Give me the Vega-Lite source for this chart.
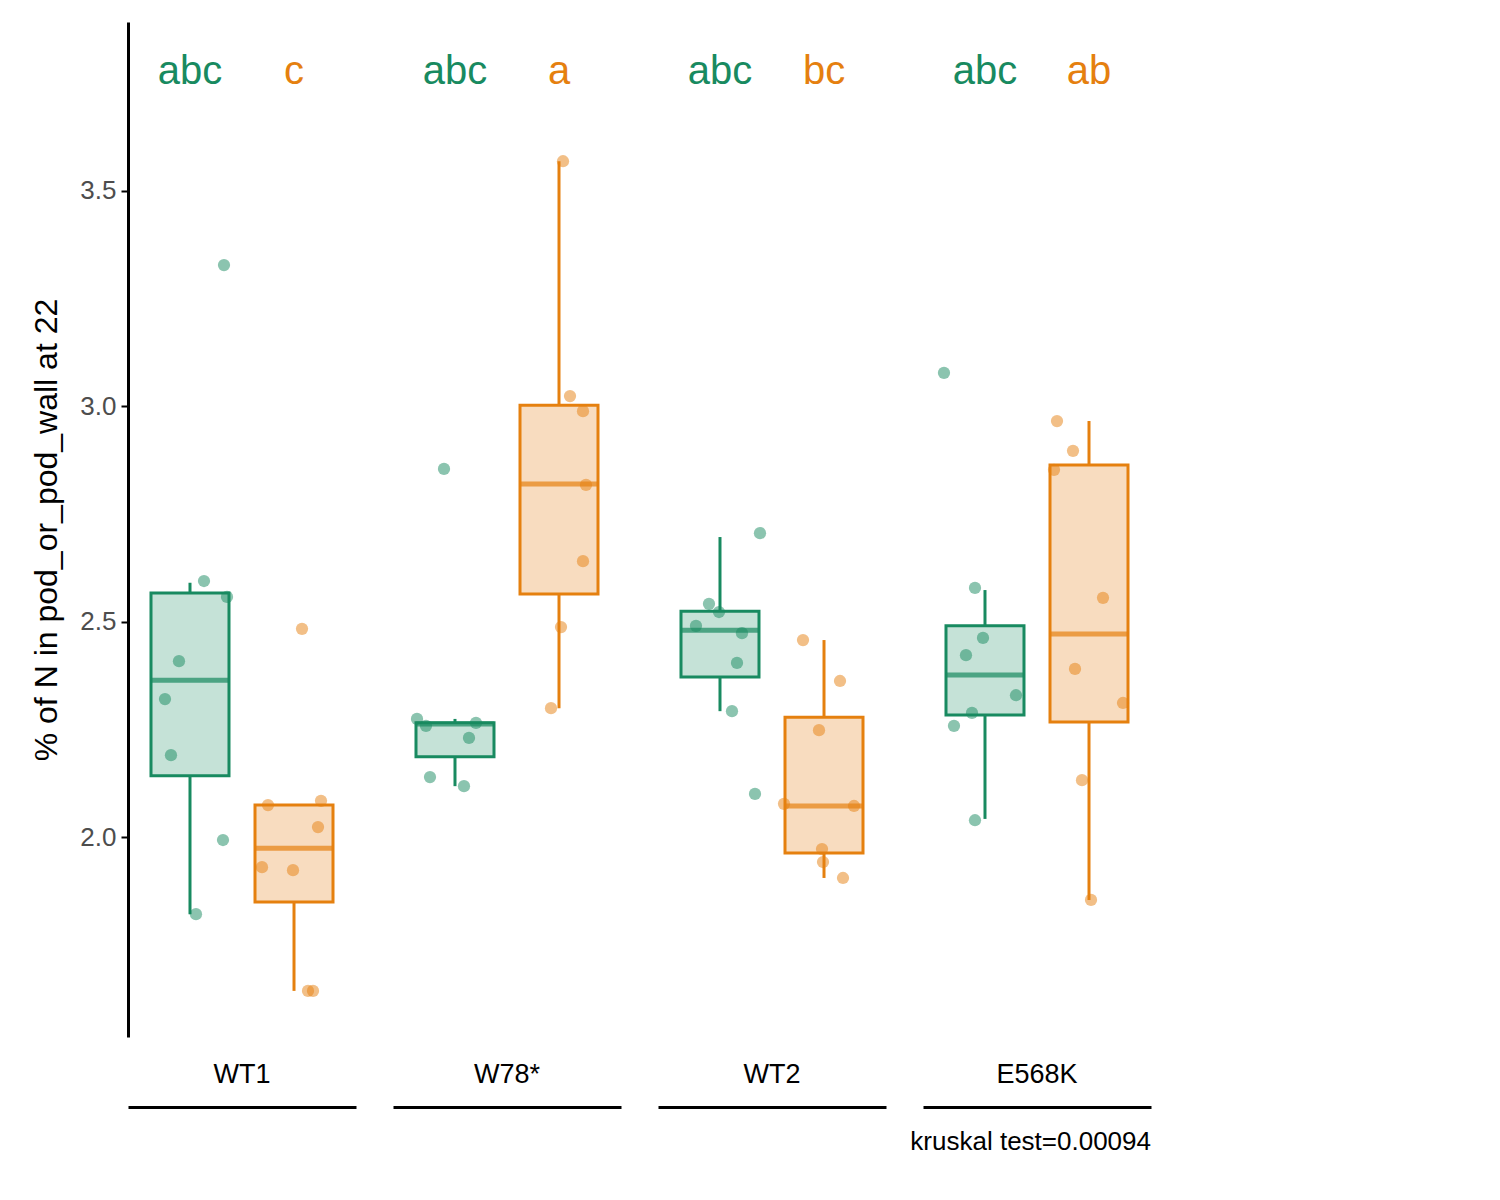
{
  "$schema": "https://vega.github.io/schema/vega-lite/v6.json",
  "padding": {"left": 30, "top": 22, "right": 10, "bottom": 10},
  "config": {
    "font": "Liberation Sans",
    "view": {"stroke": null},
    "facet": {"spacing": 37}
  },
  "title": {"text": "kruskal test=0.00094", "orient": "bottom", "anchor": "end", "fontSize": 26, "fontWeight": "normal", "offset": 22, "color": "black"},
  "datasets": {
    "all": [
      {"kind": "p", "g": "WT1", "t": "SS", "v": 3.327, "jit": 34},
      {"kind": "p", "g": "WT1", "t": "SS", "v": 2.594, "jit": 14},
      {"kind": "p", "g": "WT1", "t": "SS", "v": 2.557, "jit": 37},
      {"kind": "p", "g": "WT1", "t": "SS", "v": 2.408, "jit": -11},
      {"kind": "p", "g": "WT1", "t": "SS", "v": 2.320, "jit": -25},
      {"kind": "p", "g": "WT1", "t": "SS", "v": 2.190, "jit": -19},
      {"kind": "p", "g": "WT1", "t": "SS", "v": 1.993, "jit": 33},
      {"kind": "p", "g": "WT1", "t": "SS", "v": 1.821, "jit": 6},
      {"kind": "p", "g": "WT1", "t": "SD", "v": 2.483, "jit": 8},
      {"kind": "p", "g": "WT1", "t": "SD", "v": 2.074, "jit": -26},
      {"kind": "p", "g": "WT1", "t": "SD", "v": 2.084, "jit": 27},
      {"kind": "p", "g": "WT1", "t": "SD", "v": 2.023, "jit": 24},
      {"kind": "p", "g": "WT1", "t": "SD", "v": 1.930, "jit": -32},
      {"kind": "p", "g": "WT1", "t": "SD", "v": 1.923, "jit": -1},
      {"kind": "p", "g": "WT1", "t": "SD", "v": 1.643, "jit": 14},
      {"kind": "p", "g": "WT1", "t": "SD", "v": 1.643, "jit": 19},
      {"kind": "p", "g": "W78*", "t": "SS", "v": 2.274, "jit": -38},
      {"kind": "p", "g": "W78*", "t": "SS", "v": 2.258, "jit": -29},
      {"kind": "p", "g": "W78*", "t": "SS", "v": 2.854, "jit": -11},
      {"kind": "p", "g": "W78*", "t": "SS", "v": 2.265, "jit": 21},
      {"kind": "p", "g": "W78*", "t": "SS", "v": 2.230, "jit": 14},
      {"kind": "p", "g": "W78*", "t": "SS", "v": 2.139, "jit": -25},
      {"kind": "p", "g": "W78*", "t": "SS", "v": 2.118, "jit": 9},
      {"kind": "p", "g": "W78*", "t": "SD", "v": 3.568, "jit": 4},
      {"kind": "p", "g": "W78*", "t": "SD", "v": 3.023, "jit": 11},
      {"kind": "p", "g": "W78*", "t": "SD", "v": 2.988, "jit": 24},
      {"kind": "p", "g": "W78*", "t": "SD", "v": 2.817, "jit": 27},
      {"kind": "p", "g": "W78*", "t": "SD", "v": 2.640, "jit": 24},
      {"kind": "p", "g": "W78*", "t": "SD", "v": 2.487, "jit": 2},
      {"kind": "p", "g": "W78*", "t": "SD", "v": 2.299, "jit": -8},
      {"kind": "p", "g": "WT2", "t": "SS", "v": 2.705, "jit": 40},
      {"kind": "p", "g": "WT2", "t": "SS", "v": 2.541, "jit": -11},
      {"kind": "p", "g": "WT2", "t": "SS", "v": 2.522, "jit": -1},
      {"kind": "p", "g": "WT2", "t": "SS", "v": 2.490, "jit": -24},
      {"kind": "p", "g": "WT2", "t": "SS", "v": 2.473, "jit": 22},
      {"kind": "p", "g": "WT2", "t": "SS", "v": 2.404, "jit": 17},
      {"kind": "p", "g": "WT2", "t": "SS", "v": 2.292, "jit": 12},
      {"kind": "p", "g": "WT2", "t": "SS", "v": 2.100, "jit": 35},
      {"kind": "p", "g": "WT2", "t": "SD", "v": 2.457, "jit": -21},
      {"kind": "p", "g": "WT2", "t": "SD", "v": 2.362, "jit": 16},
      {"kind": "p", "g": "WT2", "t": "SD", "v": 2.248, "jit": -5},
      {"kind": "p", "g": "WT2", "t": "SD", "v": 2.077, "jit": -40},
      {"kind": "p", "g": "WT2", "t": "SD", "v": 2.072, "jit": 30},
      {"kind": "p", "g": "WT2", "t": "SD", "v": 1.972, "jit": -2},
      {"kind": "p", "g": "WT2", "t": "SD", "v": 1.942, "jit": -1},
      {"kind": "p", "g": "WT2", "t": "SD", "v": 1.905, "jit": 19},
      {"kind": "p", "g": "E568K", "t": "SS", "v": 3.077, "jit": -41},
      {"kind": "p", "g": "E568K", "t": "SS", "v": 2.578, "jit": -10},
      {"kind": "p", "g": "E568K", "t": "SS", "v": 2.462, "jit": -2},
      {"kind": "p", "g": "E568K", "t": "SS", "v": 2.422, "jit": -19},
      {"kind": "p", "g": "E568K", "t": "SS", "v": 2.329, "jit": 31},
      {"kind": "p", "g": "E568K", "t": "SS", "v": 2.288, "jit": -13},
      {"kind": "p", "g": "E568K", "t": "SS", "v": 2.258, "jit": -31},
      {"kind": "p", "g": "E568K", "t": "SS", "v": 2.039, "jit": -10},
      {"kind": "p", "g": "E568K", "t": "SD", "v": 2.965, "jit": -32},
      {"kind": "p", "g": "E568K", "t": "SD", "v": 2.896, "jit": -16},
      {"kind": "p", "g": "E568K", "t": "SD", "v": 2.852, "jit": -35},
      {"kind": "p", "g": "E568K", "t": "SD", "v": 2.555, "jit": 14},
      {"kind": "p", "g": "E568K", "t": "SD", "v": 2.390, "jit": -14},
      {"kind": "p", "g": "E568K", "t": "SD", "v": 2.311, "jit": 34},
      {"kind": "p", "g": "E568K", "t": "SD", "v": 2.132, "jit": -7},
      {"kind": "p", "g": "E568K", "t": "SD", "v": 1.854, "jit": 2},
      {"kind": "b", "g": "WT1", "t": "SS", "lo": 1.821, "q1": 2.142, "med": 2.364, "q3": 2.566, "hi": 2.59, "lab": "abc"},
      {"kind": "b", "g": "WT1", "t": "SD", "lo": 1.643, "q1": 1.849, "med": 1.974, "q3": 2.074, "hi": 2.074, "lab": "c"},
      {"kind": "b", "g": "W78*", "t": "SS", "lo": 2.118, "q1": 2.186, "med": 2.262, "q3": 2.265, "hi": 2.274, "lab": "abc"},
      {"kind": "b", "g": "W78*", "t": "SD", "lo": 2.299, "q1": 2.564, "med": 2.819, "q3": 3.002, "hi": 3.568, "lab": "a"},
      {"kind": "b", "g": "WT2", "t": "SS", "lo": 2.292, "q1": 2.371, "med": 2.480, "q3": 2.524, "hi": 2.696, "lab": "abc"},
      {"kind": "b", "g": "WT2", "t": "SD", "lo": 1.905, "q1": 1.963, "med": 2.072, "q3": 2.278, "hi": 2.457, "lab": "bc"},
      {"kind": "b", "g": "E568K", "t": "SS", "lo": 2.042, "q1": 2.283, "med": 2.376, "q3": 2.490, "hi": 2.573, "lab": "abc"},
      {"kind": "b", "g": "E568K", "t": "SD", "lo": 1.854, "q1": 2.267, "med": 2.471, "q3": 2.863, "hi": 2.965, "lab": "ab"}
    ]
  },
  "data": {"name": "all"},
  "facet": {
    "column": {
      "field": "g", "type": "nominal", "sort": ["WT1", "W78*", "WT2", "E568K"], "title": null,
      "header": {"labelOrient": "bottom", "labelFontSize": 27, "labelColor": "black", "labelPadding": -45}
    }
  },
  "spec": {
    "width": 228,
    "height": 1015,
    "encoding": {
      "x": {
        "field": "t", "type": "nominal", "sort": ["SS", "SD"],
        "scale": {"type": "band", "paddingInner": 0, "paddingOuter": 0.096},
        "axis": {"labels": false, "ticks": false, "title": null, "offset": 70, "domainColor": "black", "domainWidth": 3}
      }
    },
    "layer": [
      {
        "transform": [{"filter": "datum.kind === 'b'"}],
        "mark": {"type": "rule", "strokeWidth": 3},
        "encoding": {
          "y": {"field": "lo", "type": "quantitative"},
          "y2": {"field": "hi"},
          "color": {"field": "t", "type": "nominal", "scale": {"domain": ["SS", "SD"], "range": ["#188a60", "#e5800f"]}, "legend": null}
        }
      },
      {
        "transform": [{"filter": "datum.kind === 'b'"}],
        "mark": {"type": "bar", "width": 78, "strokeWidth": 3, "fillOpacity": 1},
        "encoding": {
          "y": {"field": "q1", "type": "quantitative"},
          "y2": {"field": "q3"},
          "fill": {"field": "t", "type": "nominal", "scale": {"domain": ["SS", "SD"], "range": ["#c5e2d7", "#f8dcbf"]},
            "legend": {"title": "Treatment", "titleFontSize": 34, "titleFontWeight": "normal", "titleColor": "black", "labelFontSize": 26, "labelColor": "black",
              "symbolType": "square", "symbolSize": 5000, "symbolStrokeWidth": 3, "rowPadding": 40, "labelOffset": 35, "titlePadding": 40,
              "orient": "none", "legendX": 1085, "legendY": 335, "padding": 0}},
          "stroke": {"field": "t", "type": "nominal", "scale": {"domain": ["SS", "SD"], "range": ["#188a60", "#e5800f"]}}
        }
      },
      {
        "transform": [{"filter": "datum.kind === 'b'"}],
        "mark": {"type": "tick", "size": 78, "thickness": 5},
        "encoding": {
          "y": {"field": "med", "type": "quantitative"},
          "color": {"field": "t", "type": "nominal", "legend": null}
        }
      },
      {
        "transform": [{"filter": "datum.kind === 'p'"}],
        "mark": {"type": "circle", "size": 150, "opacity": 0.5},
        "encoding": {
          "y": {"field": "v", "type": "quantitative", "scale": {"domain": [1.536, 3.891], "nice": false, "zero": false},
            "axis": {"title": "% of N in pod_or_pod_wall at 22", "titleFontSize": 32, "titleFontWeight": "normal", "titleColor": "black",
              "labelFontSize": 26, "labelColor": "#4d4d4d", "values": [2.0, 2.5, 3.0, 3.5], "format": ".1f", "grid": false,
              "domainColor": "black", "domainWidth": 3, "tickColor": "black", "tickWidth": 2, "tickSize": 7, "labelPadding": 5, "titlePadding": 16}},
          "xOffset": {"field": "jit", "type": "quantitative", "scale": {"domain": [-52, 52], "range": [0, 104]}},
          "color": {"field": "t", "type": "nominal", "legend": null}
        }
      },
      {
        "transform": [{"filter": "datum.kind === 'b'"}],
        "mark": {"type": "text", "fontSize": 40, "baseline": "middle"},
        "encoding": {
          "y": {"datum": 3.775},
          "text": {"field": "lab"},
          "color": {"field": "t", "type": "nominal", "legend": null}
        }
      }
    ]
  },
  "resolve": {"scale": {"x": "independent"}}
}
